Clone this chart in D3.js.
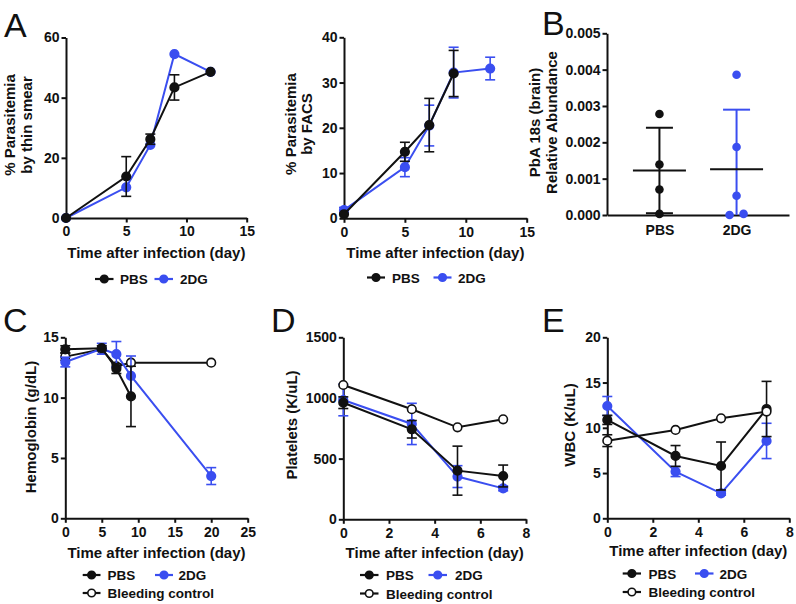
<!DOCTYPE html>
<html><head><meta charset="utf-8">
<script src="https://cdn.jsdelivr.net/npm/d3@7/dist/d3.min.js"></script>
<style>body{margin:0;background:#fff} svg{display:block}</style>
</head><body>
<svg id="c" width="796" height="604"></svg>
<script>
// ---------- DATA ----------
// Panel A (left): % parasitemia by thin smear
const smearDays = [0, 5, 7, 9, 12];
const smearPBS = [0, 13.8, 26.2, 43.4, 48.6];
const smearPBSErr = [0, 6.6, 1.7, 4.2, 0];
const smear2DG = [0, 10.2, 24.3, 54.5, 48.6];
const smear2DGErr = [0, 0, 0, 0, 0];
const smearXTicks = [0, 5, 10, 15];
const smearYTicks = [0, 20, 40, 60];

// Panel A (right): % parasitemia by FACS
const facsDaysPBS = [0, 5, 7, 9];
const facsPBS = [0.9, 14.7, 20.6, 32.0];
const facsPBSErr = [0, 2.1, 5.9, 5.1];
const facsDays2DG = [0, 5, 7, 9, 12];
const facs2DG = [1.8, 11.3, 20.5, 32.2, 33.1];
const facs2DGErr = [0.6, 2.1, 4.5, 5.6, 2.5];
const facsXTicks = [0, 5, 10, 15];
const facsYTicks = [0, 10, 20, 30, 40];

// Panel B: PbA 18s (brain) relative abundance
const brainGroups = ["PBS", "2DG"];
const brainPBS = [0.00278, 0.00139, 0.00070, 0.00003];
const brain2DG = [0.00386, 0.00187, 0.00053, 0.00000, 0.00003];
const brainYTicks = [0, 0.001, 0.002, 0.003, 0.004, 0.005];

// Panel C: Hemoglobin
const hbDaysPBS = [0, 5, 7, 9];
const hbPBS = [14.0, 14.1, 12.4, 10.1];
const hbPBSErr = [0.3, 0.2, 0.4, 2.5];
const hbDays2DG = [0, 5, 7, 9, 20];
const hb2DG = [12.95, 14.05, 13.6, 11.8, 3.5];
const hb2DGErr = [0.4, 0.45, 1.05, 1.65, 0.7];
const hbDaysBleed = [0, 5, 7, 9, 20];
const hbBleed = [13.4, 14.0, 12.6, 12.9, 12.9];
const hbBleedErr = [0.3, 0, 0, 0, 0];
const hbXTicks = [0, 5, 10, 15, 20, 25];
const hbYTicks = [0, 5, 10, 15];

// Panel D: Platelets
const pltDays = [0, 3, 5, 7];
const pltPBS = [961, 742, 401, 357];
const pltPBSErr = [48, 72, 202, 90];
const plt2DG = [983, 786, 352, 255];
const plt2DGErr = [130, 170, 90, 20];
const pltBleed = [1107, 907, 758, 824];
const pltBleedErr = [0, 0, 0, 0];
const pltXTicks = [0, 2, 4, 6, 8];
const pltYTicks = [0, 500, 1000, 1500];

// Panel E: WBC
const wbcDays = [0, 3, 5, 7];
const wbcPBS = [10.87, 6.89, 5.78, 12.08];
const wbcPBSErr = [0.5, 1.15, 2.65, 3.05];
const wbc2DG = [12.41, 5.16, 2.76, 8.55];
const wbc2DGErr = [1.05, 0.55, 0.2, 1.95];
const wbcBleed = [8.58, 9.76, 11.05, 11.79];
const wbcBleedErr = [0.65, 0, 0, 0];
const wbcXTicks = [0, 2, 4, 6, 8];
const wbcYTicks = [0, 5, 10, 15, 20];

const seriesNames = ["PBS", "2DG", "Bleeding control"];

// ---------- STYLE ----------
const FONT = "'Liberation Sans', Arial, Helvetica, sans-serif";
const INK = "#111111";
const BLUE = "#3a4ef0";
const R = 4.3;
const svg = d3.select("#c");

function styleAxis(g) {
  g.select(".domain").attr("stroke", INK).attr("stroke-width", 2);
  g.selectAll(".tick line").attr("stroke", INK).attr("stroke-width", 2);
  g.selectAll(".tick text").attr("font-family", FONT).attr("font-weight", "bold")
    .attr("font-size", 14).attr("fill", INK);
}

function text(x, y, str, opts = {}) {
  const t = svg.append("text").attr("x", x).attr("y", y).text(str)
    .attr("font-family", FONT).attr("font-weight", opts.weight || "bold")
    .attr("font-size", opts.size || 15).attr("fill", INK)
    .attr("text-anchor", opts.anchor || "start");
  if (opts.rotate) t.attr("transform", `rotate(-90,${x},${y})`);
  return t;
}

function drawSeries(g, x, y, days, vals, errs, color, open) {
  const pts = days.map((d, i) => ({ d, v: vals[i], e: errs ? errs[i] : 0 }));
  g.append("path").datum(pts)
    .attr("d", d3.line().x(p => x(p.d)).y(p => y(p.v)))
    .attr("fill", "none").attr("stroke", color).attr("stroke-width", 2);
  const eb = g.append("g").attr("stroke", color).attr("stroke-width", 1.6);
  const y0 = y.domain()[0];
  pts.filter(p => p.e > 0).forEach(p => {
    const cx = x(p.d), yt = y(p.v + p.e), yb = y(Math.max(y0, p.v - p.e));
    eb.append("line").attr("x1", cx).attr("x2", cx).attr("y1", yt).attr("y2", yb);
    eb.append("line").attr("x1", cx - 5).attr("x2", cx + 5).attr("y1", yt).attr("y2", yt);
    if (p.v - p.e > y0) eb.append("line").attr("x1", cx - 5).attr("x2", cx + 5).attr("y1", yb).attr("y2", yb);
  });
  g.selectAll(null).data(pts).join("circle")
    .attr("cx", p => x(p.d)).attr("cy", p => y(p.v)).attr("r", R)
    .attr("fill", open ? "#fff" : color).attr("stroke", color).attr("stroke-width", 1.6);
}

function linePanel(cfg) {
  const x = d3.scaleLinear().domain(cfg.xDomain).range([cfg.x0, cfg.x1]);
  const y = d3.scaleLinear().domain(cfg.yDomain).range([cfg.y0, cfg.y1]);
  const g = svg.append("g");
  g.append("g").attr("transform", `translate(0,${cfg.y0})`)
    .call(d3.axisBottom(x).tickValues(cfg.xTicks).tickSize(4.5).tickSizeOuter(0).tickPadding(4).tickFormat(d3.format("d")))
    .call(styleAxis);
  g.append("g").attr("transform", `translate(${cfg.x0},0)`)
    .call(d3.axisLeft(y).tickValues(cfg.yTicks).tickSize(4.5).tickSizeOuter(0).tickPadding(2).tickFormat(d3.format("d")))
    .call(styleAxis);
  cfg.series.forEach(s => drawSeries(g, x, y, s.days, s.vals, s.errs, s.color, s.open));
  // titles
  text((cfg.x0 + cfg.x1) / 2, cfg.xtY, "Time after infection (day)", { anchor: "middle" });
  cfg.ytitle.forEach((t, i) => text(cfg.ytX[i], cfg.ytC, t, { anchor: "middle", rotate: true }));
}

function legendItem(x1, x2, y, color, open, label, tx) {
  svg.append("line").attr("x1", x1).attr("x2", x2).attr("y1", y).attr("y2", y)
    .attr("stroke", color).attr("stroke-width", 2.2);
  svg.append("circle").attr("cx", (x1 + x2) / 2).attr("cy", y).attr("r", 3.8)
    .attr("fill", open ? "#fff" : color).attr("stroke", color).attr("stroke-width", 1.6);
  text(tx, y + 5, label, { size: 13.5 });
}

// ---------- PANEL A (thin smear) ----------
linePanel({
  x0: 66, x1: 246.7, y0: 218, y1: 37.5, xDomain: [0, 15], yDomain: [0, 60],
  xTicks: smearXTicks, yTicks: smearYTicks, xtY: 258,
  ytitle: ["% Parasitemia", "by thin smear"], ytX: [15, 32], ytC: 125,
  series: [
    { days: smearDays, vals: smear2DG, errs: smear2DGErr, color: BLUE },
    { days: smearDays, vals: smearPBS, errs: smearPBSErr, color: INK }
  ]
});
legendItem(95, 113.5, 279, INK, false, seriesNames[0], 120);
legendItem(154.5, 173, 279, BLUE, false, seriesNames[1], 180);

// ---------- PANEL A (FACS) ----------
linePanel({
  x0: 344, x1: 526.7, y0: 218.3, y1: 37.3, xDomain: [0, 15], yDomain: [0, 40],
  xTicks: facsXTicks, yTicks: facsYTicks, xtY: 258,
  ytitle: ["% Parasitemia", "by FACS"], ytX: [295.5, 311.5], ytC: 124,
  series: [
    { days: facsDays2DG, vals: facs2DG, errs: facs2DGErr, color: BLUE },
    { days: facsDaysPBS, vals: facsPBS, errs: facsPBSErr, color: INK }
  ]
});
legendItem(367, 385, 277.5, INK, false, seriesNames[0], 392);
legendItem(433.5, 451.5, 277.5, BLUE, false, seriesNames[1], 458);

// ---------- PANEL B ----------
(function () {
  const x = d3.scalePoint().domain(brainGroups).range([607, 789]).padding(0.68);
  const y = d3.scaleLinear().domain([0, 0.005]).range([215, 33.3]);
  const g = svg.append("g");
  g.append("g").attr("transform", "translate(0,215)")
    .call(d3.axisBottom(x).tickSize(0).tickSizeOuter(0).tickPadding(10))
    .call(styleAxis);
  g.append("g").attr("transform", "translate(607,0)")
    .call(d3.axisLeft(y).tickValues(brainYTicks).tickSize(4.5).tickSizeOuter(0).tickPadding(2).tickFormat(d3.format(".3f")))
    .call(styleAxis);
  const groups = [
    { name: brainGroups[0], vals: brainPBS, color: INK },
    { name: brainGroups[1], vals: brain2DG, color: BLUE }
  ];
  groups.forEach(gr => {
    const cx = x(gr.name);
    const m = d3.mean(gr.vals), sd = d3.deviation(gr.vals);
    const yt = y(m + sd), yb = y(Math.max(0, m - sd));
    g.append("line").attr("x1", cx).attr("x2", cx).attr("y1", yt).attr("y2", yb)
      .attr("stroke", gr.color).attr("stroke-width", 2);
    g.append("line").attr("x1", cx - 13.5).attr("x2", cx + 13.5).attr("y1", yt).attr("y2", yt)
      .attr("stroke", gr.color).attr("stroke-width", 2);
    if (m - sd > 0) g.append("line").attr("x1", cx - 13.5).attr("x2", cx + 13.5).attr("y1", yb).attr("y2", yb)
      .attr("stroke", gr.color).attr("stroke-width", 2);
    g.append("line").attr("x1", cx - 26.5).attr("x2", cx + 26.5).attr("y1", y(m)).attr("y2", y(m))
      .attr("stroke", INK).attr("stroke-width", 2);
    // dodge overlapping points horizontally
    const py = gr.vals.map(v => y(v));
    const offs = py.map((p, i) => {
      const cluster = py.map((q, j) => j).filter(j => Math.abs(py[j] - p) < 2 * R * 0.6);
      const n = cluster.length, k = cluster.indexOf(i);
      return (k - (n - 1) / 2) * 14;
    });
    g.selectAll(null).data(gr.vals).join("circle")
      .attr("cx", (v, i) => cx + offs[i]).attr("cy", v => y(v)).attr("r", R)
      .attr("fill", gr.color);
  });
  text(540, 122.5, "PbA 18s (brain)", { anchor: "middle", rotate: true });
  text(556.5, 122.5, "Relative Abundance", { anchor: "middle", rotate: true });
})();

// ---------- PANEL C ----------
linePanel({
  x0: 65.3, x1: 247.7, y0: 518.3, y1: 337.3, xDomain: [0, 25], yDomain: [0, 15],
  xTicks: hbXTicks, yTicks: hbYTicks, xtY: 557.5,
  ytitle: ["Hemoglobin (g/dL)"], ytX: [36], ytC: 427,
  series: [
    { days: hbDaysBleed, vals: hbBleed, errs: hbBleedErr, color: INK, open: true },
    { days: hbDays2DG, vals: hb2DG, errs: hb2DGErr, color: BLUE },
    { days: hbDaysPBS, vals: hbPBS, errs: hbPBSErr, color: INK }
  ]
});
legendItem(82.7, 100.5, 575, INK, false, seriesNames[0], 107.5);
legendItem(155, 173, 575, BLUE, false, seriesNames[1], 178.5);
legendItem(82.7, 100.5, 593, INK, true, seriesNames[2], 107.5);

// ---------- PANEL D ----------
linePanel({
  x0: 343.3, x1: 526, y0: 519.3, y1: 337.3, xDomain: [0, 8], yDomain: [0, 1500],
  xTicks: pltXTicks, yTicks: pltYTicks, xtY: 557.5,
  ytitle: ["Platelets (K/uL)"], ytX: [296.5], ytC: 425,
  series: [
    { days: pltDays, vals: plt2DG, errs: plt2DGErr, color: BLUE },
    { days: pltDays, vals: pltPBS, errs: pltPBSErr, color: INK },
    { days: pltDays, vals: pltBleed, errs: pltBleedErr, color: INK, open: true }
  ]
});
legendItem(360, 378.5, 575, INK, false, seriesNames[0], 386);
legendItem(428.5, 447, 575, BLUE, false, seriesNames[1], 455);
legendItem(360, 378.5, 593.5, INK, true, seriesNames[2], 386);

// ---------- PANEL E ----------
linePanel({
  x0: 607.3, x1: 789.3, y0: 518.3, y1: 337.3, xDomain: [0, 8], yDomain: [0, 20],
  xTicks: wbcXTicks, yTicks: wbcYTicks, xtY: 556,
  ytitle: ["WBC (K/uL)"], ytX: [575], ytC: 425,
  series: [
    { days: wbcDays, vals: wbc2DG, errs: wbc2DGErr, color: BLUE },
    { days: wbcDays, vals: wbcPBS, errs: wbcPBSErr, color: INK },
    { days: wbcDays, vals: wbcBleed, errs: wbcBleedErr, color: INK, open: true }
  ]
});
legendItem(622.7, 641, 573.5, INK, false, seriesNames[0], 648.5);
legendItem(695, 713.5, 573.5, BLUE, false, seriesNames[1], 719.5);
legendItem(622.7, 641, 592, INK, true, seriesNames[2], 648.5);

// ---------- PANEL LETTERS ----------
text(4, 37, "A", { size: 34, weight: "normal" });
text(542, 35, "B", { size: 34, weight: "normal" });
text(3, 332, "C", { size: 34, weight: "normal" });
text(271, 332, "D", { size: 34, weight: "normal" });
text(542, 332, "E", { size: 34, weight: "normal" });
</script>
</body></html>
